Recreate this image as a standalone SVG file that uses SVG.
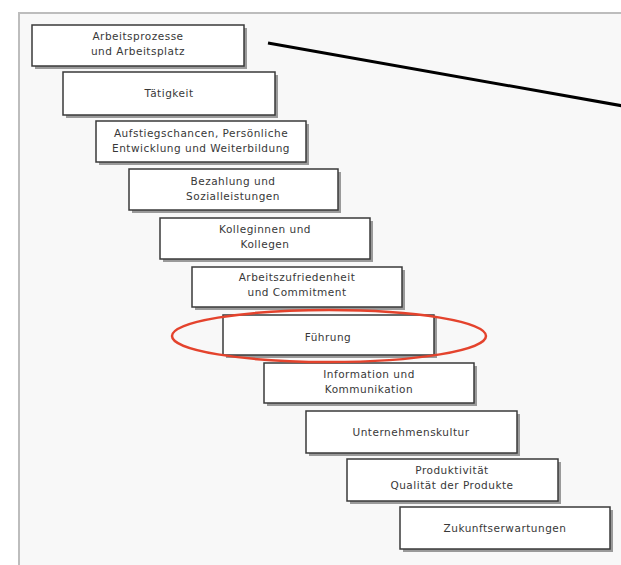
<svg xmlns="http://www.w3.org/2000/svg" width="621" height="565" viewBox="0 0 621 565">
<defs>
<style>
.box{fill:#ffffff;stroke:#3a3a3a;stroke-width:1.5}
.sh{fill:#9a9a9a}
.t{font-family:"DejaVu Sans","Liberation Sans",Arial,sans-serif;font-size:10.5px;letter-spacing:0.5px;fill:#383838;text-anchor:middle}
</style>
</defs>
<rect x="0" y="0" width="621" height="565" fill="#ffffff"/>
<rect x="19" y="13" width="604" height="555" fill="#f8f8f8" stroke="#bdbdbd" stroke-width="2"/>
<g id="connectors">
<line x1="268" y1="43" x2="623" y2="106" stroke="#000" stroke-width="3"/>
</g>
<g id="n1"><rect class="sh" x="35" y="28" width="212" height="41"/><rect class="box" x="32" y="25" width="212" height="41"/><text class="t" x="138" y="40">Arbeitsprozesse</text><text class="t" x="138" y="55">und Arbeitsplatz</text></g>
<g id="n2"><rect class="sh" x="66" y="75" width="212" height="43"/><rect class="box" x="63" y="72" width="212" height="43"/><text class="t" x="169" y="97">Tätigkeit</text></g>
<g id="n3"><rect class="sh" x="99" y="124" width="210" height="41"/><rect class="box" x="96" y="121" width="210" height="41"/><text class="t" x="201" y="137">Aufstiegschancen, Persönliche</text><text class="t" x="201" y="152">Entwicklung und Weiterbildung</text></g>
<g id="n4"><rect class="sh" x="132" y="172" width="209" height="41"/><rect class="box" x="129" y="169" width="209" height="41"/><text class="t" x="233" y="185">Bezahlung und</text><text class="t" x="233" y="200">Sozialleistungen</text></g>
<g id="n5"><rect class="sh" x="163" y="221" width="210" height="41"/><rect class="box" x="160" y="218" width="210" height="41"/><text class="t" x="265" y="233">Kolleginnen und</text><text class="t" x="265" y="248">Kollegen</text></g>
<g id="n6"><rect class="sh" x="195" y="270" width="210" height="40"/><rect class="box" x="192" y="267" width="210" height="40"/><text class="t" x="297" y="281">Arbeitszufriedenheit</text><text class="t" x="297" y="296">und Commitment</text></g>
<g id="n7"><rect class="sh" x="226" y="318" width="211" height="40"/><rect class="box" x="223" y="315" width="211" height="40"/><text class="t" x="328" y="341">Führung</text></g>
<g id="n8"><rect class="sh" x="267" y="366" width="210" height="40"/><rect class="box" x="264" y="363" width="210" height="40"/><text class="t" x="369" y="378">Information und</text><text class="t" x="369" y="393">Kommunikation</text></g>
<g id="n9"><rect class="sh" x="309" y="414" width="211" height="42"/><rect class="box" x="306" y="411" width="211" height="42"/><text class="t" x="411" y="436">Unternehmenskultur</text></g>
<g id="n10"><rect class="sh" x="350" y="462" width="211" height="42"/><rect class="box" x="347" y="459" width="211" height="42"/><text class="t" x="452" y="474">Produktivität</text><text class="t" x="452" y="489">Qualität der Produkte</text></g>
<g id="n11"><rect class="sh" x="403" y="510" width="210" height="42"/><rect class="box" x="400" y="507" width="210" height="42"/><text class="t" x="505" y="532">Zukunftserwartungen</text></g>
<ellipse cx="329" cy="336" rx="157" ry="26" fill="none" stroke="#e4432d" stroke-width="2.5"/>
</svg>
